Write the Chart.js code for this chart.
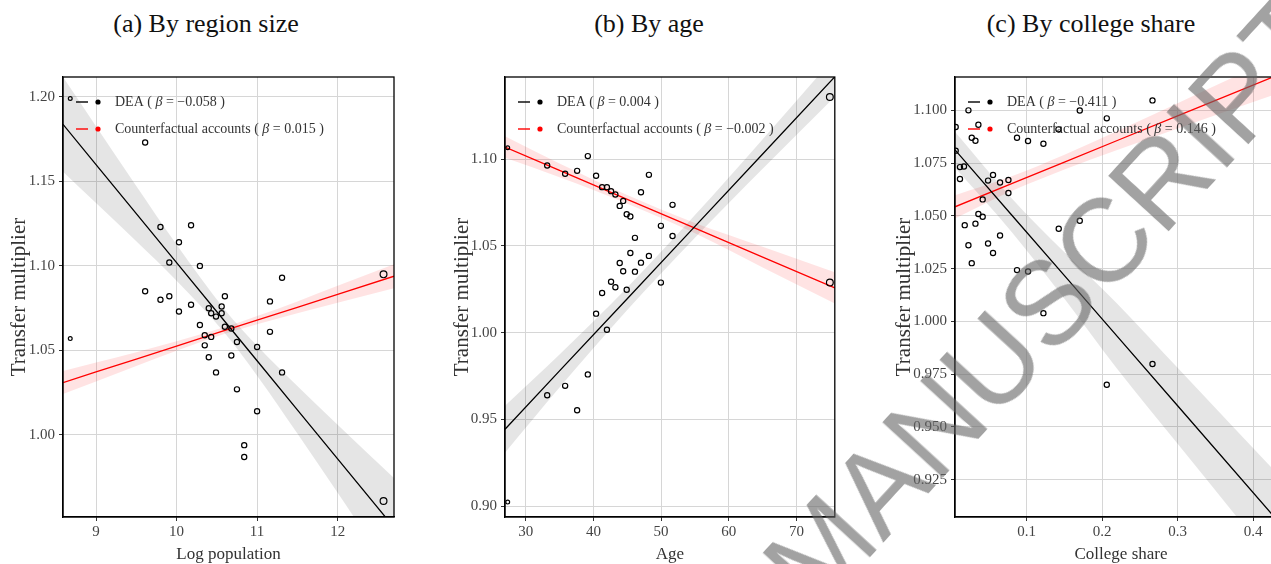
<!DOCTYPE html>
<html>
<head>
<meta charset="utf-8">
<title>Transfer multiplier by region size, age and college share</title>
<script src="https://cdn.jsdelivr.net/npm/chart.js@4.4.1/dist/chart.umd.min.js"></script>
<style>
  html, body { margin: 0; padding: 0; width: 1271px; height: 564px; overflow: hidden; background: #fff; }
  .panel { position: absolute; top: 60px; }
  .cap {
    position: absolute; top: 11px; transform: translateX(-50%);
    font-family: "Liberation Serif", serif; font-size: 26px; line-height: 1;
    color: #111; white-space: nowrap;
  }
  .stamp {
    position: absolute; left: 1050px; top: 300px;
    transform: translate(-50%, -50%) rotate(-47.5deg);
    font-family: "Liberation Sans", sans-serif; font-size: 118px; line-height: 1;
    color: rgba(100, 100, 100, 0.6); white-space: nowrap; pointer-events: none;
  }
</style>
</head>
<body>
<div class="cap" style="left:206px">(a) By region size</div>
<div class="cap" style="left:649px">(b) By age</div>
<div class="cap" style="left:1091px">(c) By college share</div>

<canvas id="popChart" class="panel" width="400" height="520" style="left:0px"></canvas>
<canvas id="ageChart" class="panel" width="400" height="520" style="left:440px"></canvas>
<canvas id="collegeChart" class="panel" width="420" height="520" style="left:880px"></canvas>

<div class="stamp">MANUSCRIPT</div>

<script>
// ---- (a) by region size -------------------------------------------------
const popX = [9.61, 9.80, 10.18, 10.03, 9.91, 10.29, 9.61, 9.80, 9.91, 10.18, 10.03, 10.40,
  10.56, 10.60, 10.43, 10.49, 10.56, 11.16, 11.31, 10.29, 10.35, 10.43, 10.35, 10.60,
  10.68, 10.75, 10.40, 10.68, 10.49, 11.00, 11.16, 11.31, 10.75, 11.00, 10.84, 10.84];
const popY = [1.173, 1.123, 1.124, 1.114, 1.102, 1.100, 1.085, 1.080, 1.082, 1.077, 1.073, 1.075,
  1.076, 1.082, 1.072, 1.070, 1.072, 1.079, 1.093, 1.065, 1.059, 1.058, 1.053, 1.064,
  1.063, 1.055, 1.046, 1.047, 1.037, 1.052, 1.061, 1.037, 1.027, 1.014, 0.994, 0.987];
const popSmallX = [8.68, 8.68];
const popSmallY = [1.199, 1.057];
const popLargeX = [12.57, 12.57];
const popLargeY = [1.095, 0.961];
const popFitX = [8.59, 9, 9.5, 10, 10.6, 11, 11.5, 12, 12.7];
const popDea = [1.1837, 1.1599, 1.1309, 1.1019, 1.0671, 1.0439, 1.0149, 0.9859, 0.9453];
const popDeaLo = [1.1557, 1.1372, 1.1145, 1.0912, 1.0601, 1.0351, 1.0009, 0.9658, 0.9161];
const popDeaHi = [1.2117, 1.1826, 1.1473, 1.1126, 1.0741, 1.0527, 1.0289, 1.0060, 0.9745];
const popCf = [1.0310, 1.0373, 1.0449, 1.0526, 1.0618, 1.0679, 1.0755, 1.0832, 1.0939];
const popCfLo = [1.0242, 1.0317, 1.0408, 1.0498, 1.0598, 1.0655, 1.0720, 1.0782, 1.0868];
const popCfHi = [1.0378, 1.0429, 1.0490, 1.0554, 1.0638, 1.0703, 1.0790, 1.0882, 1.1010];
const popXTicks = ["9", "10", "11", "12"];
const popYTicks = ["1.00", "1.05", "1.10", "1.15", "1.20"];

// ---- (b) by age -----------------------------------------------------------
const ageX = [33.18, 35.83, 37.60, 39.18, 40.40, 41.29, 42.00, 42.61, 43.25, 44.40, 43.89, 44.92,
  45.46, 47.03, 48.20, 51.69, 49.97, 51.69, 46.14, 45.46, 43.89, 44.40, 46.14, 47.03,
  48.20, 42.61, 43.25, 44.92, 49.97, 41.29, 40.40, 42.00, 39.18, 35.83, 33.18, 37.60];
const ageY = [1.0963, 1.0915, 1.0932, 1.1017, 1.0904, 1.0838, 1.0838, 1.0815, 1.0796, 1.0759, 1.0730, 1.0682,
  1.0669, 1.0809, 1.0909, 1.0736, 1.0615, 1.0557, 1.0546, 1.0459, 1.0401, 1.0353, 1.0351, 1.0403,
  1.0442, 1.0293, 1.0261, 1.0247, 1.0288, 1.0228, 1.0109, 1.0016, 0.9759, 0.9693, 0.9639, 0.9552];
const ageSmallX = [27.35, 27.35];
const ageSmallY = [1.1065, 0.9023];
const ageLargeX = [74.92, 74.92];
const ageLargeY = [1.1358, 1.0288];
const ageFitX = [26.95, 35, 45, 55, 65, 75.65];
const ageDea = [0.9443, 0.9779, 1.0195, 1.0612, 1.1029, 1.1474];
const ageDeaLo = [0.9308, 0.9684, 1.0130, 1.0547, 1.0944, 1.1359];
const ageDeaHi = [0.9578, 0.9874, 1.0260, 1.0677, 1.1114, 1.1589];
const ageCf = [1.1069, 1.0935, 1.0768, 1.0602, 1.0435, 1.0257];
const ageCfLo = [1.1007, 1.0895, 1.0743, 1.0572, 1.0375, 1.0167];
const ageCfHi = [1.1131, 1.0975, 1.0793, 1.0632, 1.0495, 1.0347];
const ageXTicks = ["30", "40", "50", "60", "70"];
const ageYTicks = ["0.90", "0.95", "1.00", "1.05", "1.10"];

// ---- (c) by college share -------------------------------------------------
const colX = [0.0058, 0.0058, 0.0115, 0.0168, 0.0115, 0.0227, 0.0359, 0.0271, 0.0320, 0.0487,
  0.0553, 0.0646, 0.0757, 0.0757, 0.0416, 0.0359, 0.0416, 0.0178, 0.0320, 0.0646,
  0.0487, 0.0227, 0.0553, 0.0271, 0.0871, 0.1017, 0.1221, 0.1420, 0.1703, 0.2061,
  0.2667, 0.1424, 0.1703, 0.0871, 0.1017, 0.1221, 0.2061, 0.2667];
const colY = [1.0921, 1.0809, 1.0731, 1.0734, 1.0675, 1.1000, 1.0932, 1.0870, 1.0856, 1.0667,
  1.0694, 1.0658, 1.0670, 1.0608, 1.0578, 1.0509, 1.0496, 1.0456, 1.0463, 1.0407,
  1.0369, 1.0361, 1.0324, 1.0276, 1.0870, 1.0855, 1.0842, 1.0910, 1.0999, 1.0962,
  1.1047, 1.0439, 1.0477, 1.0243, 1.0236, 1.0039, 0.9700, 0.9798];
const colFitX = [0.0049, 0.08, 0.15, 0.22, 0.30, 0.445];
const colDea = [1.0813, 1.0504, 1.0217, 0.9929, 0.9600, 0.9004];
const colDeaLo = [1.0728, 1.0424, 1.0107, 0.9774, 0.9420, 0.8779];
const colDeaHi = [1.0898, 1.0584, 1.0327, 1.0084, 0.9780, 0.9229];
const colCf = [1.0543, 1.0653, 1.0755, 1.0857, 1.0974, 1.1185];
const colCfLo = [1.0488, 1.0618, 1.0720, 1.0812, 1.0914, 1.1095];
const colCfHi = [1.0598, 1.0688, 1.0790, 1.0902, 1.1034, 1.1275];
const colXTicks = ["0.1", "0.2", "0.3", "0.4"];
const colYTicks = ["0.925", "0.950", "0.975", "1.000", "1.025", "1.050", "1.075", "1.100"];

const SERIF = "'Liberation Serif', 'DejaVu Serif', serif";

const pts = (xs, ys) => xs.map((x, i) => ({ x, y: ys[i] }));

// box around the plot + the little "line  dot  label" legend in the corner
const frameLegend = {
  id: "frameLegend",
  afterDatasetsDraw(chart, args, opts) {
    const { ctx, chartArea: a } = chart;
    ctx.save();
    ctx.strokeStyle = "#000";
    ctx.lineWidth = 1.3;
    ctx.strokeRect(a.left, a.top, a.right - a.left, a.bottom - a.top);

    (opts.items || []).forEach((it, i) => {
      const y = a.top + 25 + i * 27;
      ctx.strokeStyle = it.color;
      ctx.lineWidth = 1.4;
      ctx.beginPath();
      ctx.moveTo(a.left + 13, y);
      ctx.lineTo(a.left + 25, y);
      ctx.stroke();
      ctx.fillStyle = it.color;
      ctx.beginPath();
      ctx.arc(a.left + 35, y, 2.6, 0, Math.PI * 2);
      ctx.fill();

      let x = a.left + 52;
      ctx.fillStyle = "#333";
      ctx.textBaseline = "middle";
      [[it.name + " ( ", false], ["β", true], [" = " + it.beta + " )", false]].forEach(([t, ital]) => {
        ctx.font = (ital ? "italic " : "") + "14px " + SERIF;
        ctx.fillText(t, x, y);
        x += ctx.measureText(t).width;
      });
    });
    ctx.restore();
  }
};

function panel(id, p) {
  const band = (xs, ys, color, target) => ({
    type: "line", data: pts(xs, ys), borderWidth: 0, pointRadius: 0,
    cubicInterpolationMode: "monotone",
    fill: target === undefined ? false : { target },
    backgroundColor: color, order: 2
  });
  const fit = (xs, ys, color) => ({
    type: "line", data: pts(xs, ys), borderColor: color, borderWidth: 1.3,
    pointRadius: 0, fill: false, order: 1
  });
  const dots = (xs, ys, r) => ({
    data: pts(xs, ys), pointRadius: r, borderColor: "#000", borderWidth: 1.2,
    backgroundColor: "rgba(0,0,0,0)", order: 0
  });

  const datasets = [
    dots(p.x, p.y, 2.6),
    dots(p.smallX || [], p.smallY || [], 1.9),
    dots(p.largeX || [], p.largeY || [], 3.4),
    fit(p.fitX, p.dea, "#000"),
    fit(p.fitX, p.cf, "#ff0000"),
    band(p.fitX, p.deaLo, "rgba(0,0,0,0)"),
    band(p.fitX, p.deaHi, "rgba(0,0,0,0.1)", 5),
    band(p.fitX, p.cfLo, "rgba(0,0,0,0)"),
    band(p.fitX, p.cfHi, "rgba(255,0,0,0.11)", 7)
  ];

  const tickFont = { family: SERIF, size: 15 };
  const grid = { color: "#d6d6d6", lineWidth: 1, tickLength: 4, tickColor: "#333" };
  const border = { color: "#000", width: 1.3 };

  new Chart(document.getElementById(id), {
    type: "scatter",
    data: { datasets },
    plugins: [frameLegend],
    options: {
      responsive: false,
      animation: false,
      events: [],
      layout: { padding: { top: 17, right: p.padRight, bottom: 0, left: 0 } },
      plugins: {
        legend: { display: false },
        tooltip: { enabled: false },
        frameLegend: { items: p.legend }
      },
      scales: {
        x: {
          type: "linear", min: p.xMin, max: p.xMax,
          afterBuildTicks: s => { s.ticks = p.xTicks.map(t => ({ value: parseFloat(t) })); },
          afterFit: s => { s.height = 63; },
          ticks: { font: tickFont, color: "#444", padding: 2, maxRotation: 0, callback: (v, i) => p.xTicks[i] },
          grid, border,
          title: { display: true, text: p.xTitle, color: "#333",
                   font: { family: SERIF, size: 17 }, padding: { top: 0, bottom: 14.8 } }
        },
        y: {
          type: "linear", min: p.yMin, max: p.yMax,
          afterBuildTicks: s => { s.ticks = p.yTicks.map(t => ({ value: parseFloat(t) })); },
          afterFit: s => { s.width = p.yWidth; },
          ticks: { font: tickFont, color: "#444", padding: 4, callback: (v, i) => p.yTicks[i] },
          grid, border,
          title: { display: true, text: "Transfer multiplier", color: "#333",
                   font: { family: SERIF, size: 21 }, padding: { top: p.yTitlePad, bottom: 0 } }
        }
      }
    }
  });
}

panel("popChart", {
  x: popX, y: popY, smallX: popSmallX, smallY: popSmallY, largeX: popLargeX, largeY: popLargeY,
  fitX: popFitX, dea: popDea, deaLo: popDeaLo, deaHi: popDeaHi, cf: popCf, cfLo: popCfLo, cfHi: popCfHi,
  xMin: 8.59, xMax: 12.70, yMin: 0.9515, yMax: 1.2117,
  xTicks: popXTicks, yTicks: popYTicks, xTitle: "Log population",
  yWidth: 63, yTitlePad: 6.4, padRight: 6,
  legend: [
    { name: "DEA", beta: "−0.058", color: "#000" },
    { name: "Counterfactual accounts", beta: "0.015", color: "#ff0000" }
  ]
});

panel("ageChart", {
  x: ageX, y: ageY, smallX: ageSmallX, smallY: ageSmallY, largeX: ageLargeX, largeY: ageLargeY,
  fitX: ageFitX, dea: ageDea, deaLo: ageDeaLo, deaHi: ageDeaHi, cf: ageCf, cfLo: ageCfLo, cfHi: ageCfHi,
  xMin: 26.95, xMax: 75.65, yMin: 0.8937, yMax: 1.1473,
  xTicks: ageXTicks, yTicks: ageYTicks, xTitle: "Age",
  yWidth: 65, yTitlePad: 9.4, padRight: 4,
  legend: [
    { name: "DEA", beta: "0.004", color: "#000" },
    { name: "Counterfactual accounts", beta: "−0.002", color: "#ff0000" }
  ]
});

panel("collegeChart", {
  x: colX, y: colY,
  fitX: colFitX, dea: colDea, deaLo: colDeaLo, deaHi: colDeaHi, cf: colCf, cfLo: colCfLo, cfHi: colCfHi,
  xMin: 0.0049, xMax: 0.445, yMin: 0.9073, yMax: 1.1158,
  xTicks: colXTicks, yTicks: colYTicks, xTitle: "College share",
  yWidth: 75, yTitlePad: 11.4, padRight: 13,
  legend: [
    { name: "DEA", beta: "−0.411", color: "#000" },
    { name: "Counterfactual accounts", beta: "0.146", color: "#ff0000" }
  ]
});
</script>
</body>
</html>
